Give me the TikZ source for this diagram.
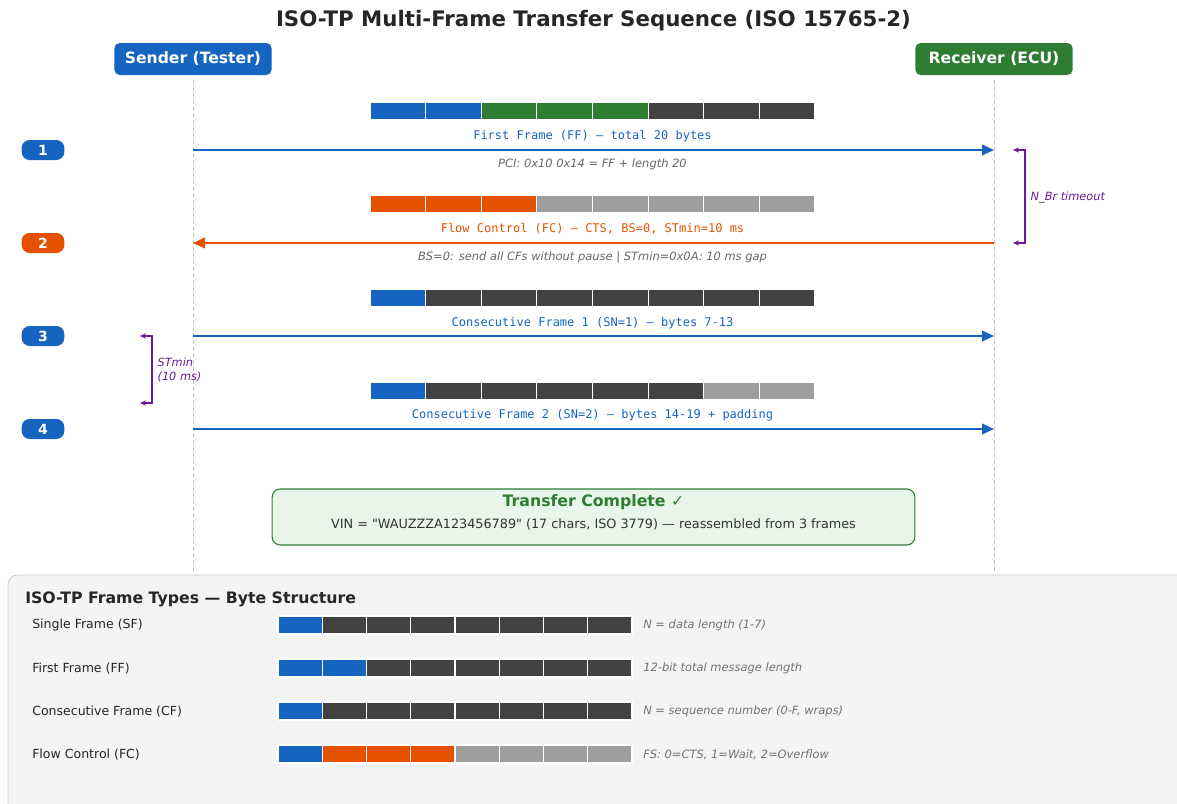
\documentclass[tikz,border=0pt]{standalone}
\usepackage{fontspec}
\setmainfont{DejaVu Sans}
\setmonofont{DejaVu Sans Mono}
\usepackage{tikz}
\usetikzlibrary{positioning,arrows.meta}
\usepackage{xcolor}

\definecolor{isoblue}{HTML}{1565C0}
\definecolor{isogreen}{HTML}{2E7D32}
\definecolor{isoorange}{HTML}{E65100}
\definecolor{isodark}{HTML}{424242}
\definecolor{isogray}{HTML}{9E9E9E}
\definecolor{isopurple}{HTML}{6A1B9A}
\definecolor{donefill}{HTML}{E8F5E9}
\definecolor{panelfill}{HTML}{F4F4F4}

% one CAN frame drawn as eight byte cells
\newcommand{\bytebar}[4]{%
  \edef\bytelist{#4}%
  \foreach \c [count=\i from 0] in \bytelist
    \filldraw[fill=\c, draw=white, line width=0.8pt] ({#1+\i*#3},#2) rectangle ++(#3,18);
}

\begin{document}
\begin{tikzpicture}[
  x=0.75pt, y=-0.75pt,
  ttl/.style={font=\fontsize{16}{19}\selectfont\bfseries, text=black!85},
  hdr/.style={
    rectangle, rounded corners=4pt, text=white,
    minimum width=118pt, minimum height=24pt,
    font=\fontsize{11.7}{14}\selectfont\bfseries
  },
  badge/.style={
    rectangle, rounded corners=6pt, text=white,
    minimum width=32pt, minimum height=15pt, inner sep=0pt,
    font=\fontsize{10.5}{12}\selectfont\bfseries
  },
  life/.style={draw=black!25, dash pattern=on 3pt off 2pt, line width=0.6pt},
  msg/.style={line width=1.4pt, -{Triangle[length=9pt,width=8pt]}},
  flbl/.style={font=\fontsize{9}{11}\selectfont\ttfamily, inner sep=1pt},
  note/.style={font=\fontsize{8.6}{10}\selectfont\itshape, text=black!60, inner sep=1pt},
  brk/.style={draw=isopurple, line width=1pt,
    {Stealth[length=4.5pt,width=4pt]}-{Stealth[length=4.5pt,width=4pt]}},
  tnote/.style={font=\fontsize{8.5}{10.5}\selectfont\itshape, text=isopurple,
    align=left, inner sep=1pt},
  done/.style={
    rectangle, rounded corners=6pt, draw=isogreen, fill=donefill,
    line width=0.8pt, minimum width=482pt, minimum height=42pt
  },
  panel/.style={draw=black!20, fill=panelfill, rounded corners=7pt, line width=0.6pt},
  rowlbl/.style={font=\fontsize{9.4}{11}\selectfont, text=black!85, anchor=west, inner sep=0pt},
  rownote/.style={font=\fontsize{8.6}{10}\selectfont\itshape, text=black!55, anchor=west, inner sep=0pt}
]
\useasboundingbox (0,0) rectangle (1177,803);

\node[ttl] (title) at (593.5,21) {ISO-TP Multi-Frame Transfer Sequence (ISO 15765-2)};

% the two parties and their lifelines
\node[hdr, fill=isoblue] (snd) at (193,59) {Sender (Tester)};
\node[hdr, fill=isogreen] (rcv) at (994,59) {Receiver (ECU)};
\coordinate (sndtop) at (193,80);
\coordinate (sndbot) at (193,572);
\coordinate (rcvtop) at (994,80);
\coordinate (rcvbot) at (994,572);
\draw[life] (sndtop) -- (sndbot);
\draw[life] (rcvtop) -- (rcvbot);

% step markers
\node[badge, fill=isoblue] (b1) at (43,150) {1};
\node[badge, fill=isoorange] (b2) at (43,243) {2};
\node[badge, fill=isoblue] (b3) at (43,336) {3};
\node[badge, fill=isoblue] (b4) at (43,429) {4};

% 1: first frame
\bytebar{370}{102}{55.625}{isoblue,isoblue,isogreen,isogreen,isogreen,isodark,isodark,isodark}
\coordinate (s1) at (193,150);
\coordinate (r1) at (994,150);
\draw[msg, isoblue] (s1) -- (r1);
\node[flbl, text=isoblue] (l1) at (592.5,136) {First Frame (FF) — total 20 bytes};
\node[note] (n1) at (592.5,164) {PCI: 0x10 0x14 = FF + length 20};

% 2: flow control back to the tester
\bytebar{370}{195}{55.625}{isoorange,isoorange,isoorange,isogray,isogray,isogray,isogray,isogray}
\coordinate (s2) at (193,243);
\coordinate (r2) at (994,243);
\draw[msg, isoorange] (r2) -- (s2);
\node[flbl, text=isoorange] (l2) at (592.5,229) {Flow Control (FC) — CTS, BS=0, STmin=10 ms};
\node[note] (n2) at (592.5,257) {BS=0: send all CFs without pause | STmin=0x0A: 10 ms gap};

% 3: consecutive frame 1
\bytebar{370}{289}{55.625}{isoblue,isodark,isodark,isodark,isodark,isodark,isodark,isodark}
\coordinate (s3) at (193,336);
\coordinate (r3) at (994,336);
\draw[msg, isoblue] (s3) -- (r3);
\node[flbl, text=isoblue] (l3) at (592.5,323) {Consecutive Frame 1 (SN=1) — bytes 7-13};

% 4: consecutive frame 2
\bytebar{370}{382}{55.625}{isoblue,isodark,isodark,isodark,isodark,isodark,isogray,isogray}
\coordinate (s4) at (193,429);
\coordinate (r4) at (994,429);
\draw[msg, isoblue] (s4) -- (r4);
\node[flbl, text=isoblue] (l4) at (592.5,415) {Consecutive Frame 2 (SN=2) — bytes 14-19 + padding};

% timing brackets
\coordinate (nb1) at (1013,150);
\coordinate (nb2) at (1013,243);
\draw[brk] (nb1) -- ++(12,0) |- (nb2);
\node[tnote, anchor=west] (nbl) at (1029,198) {N\_Br timeout};
\coordinate (st1) at (140,336);
\coordinate (st2) at (140,403);
\draw[brk] (st1) -- ++(12,0) |- (st2);
\node[tnote, anchor=west] (stl) at (156,370) {STmin\\(10 ms)};

% result
\node[done] (done) at (593.5,517) {};
\node[font=\fontsize{11.8}{14}\selectfont\bfseries, text=isogreen] (dttl) at (593.5,502) {Transfer Complete ✓};
\node[font=\fontsize{9.6}{11}\selectfont, text=black!80] (dsub) at (593.5,524)
  {VIN = \textquotedbl WAUZZZA123456789\textquotedbl{} (17 chars, ISO 3779) — reassembled from 3 frames};

% frame type legend
\path[panel] (8,575) rectangle (1195,820);
\node[font=\fontsize{11.8}{14}\selectfont\bfseries, text=black!85, anchor=west, inner sep=0pt]
  (ptitle) at (25,599) {ISO-TP Frame Types — Byte Structure};
\foreach \lbl/\yy/\cols/\nt [count=\r] in {
  {Single Frame (SF)}/625/{isoblue,isodark,isodark,isodark,isodark,isodark,isodark,isodark}/{N = data length (1-7)},
  {First Frame (FF)}/668/{isoblue,isoblue,isodark,isodark,isodark,isodark,isodark,isodark}/{12-bit total message length},
  {Consecutive Frame (CF)}/711/{isoblue,isodark,isodark,isodark,isodark,isodark,isodark,isodark}/{N = sequence number (0-F, wraps)},
  {Flow Control (FC)}/754/{isoblue,isoorange,isoorange,isoorange,isogray,isogray,isogray,isogray}/{FS: 0=CTS, 1=Wait, 2=Overflow}}
{
  \node[rowlbl] (row\r) at (32,\yy+0.5) {\lbl};
  \bytebar{278}{\yy-9}{44.25}{\cols}
  \node[rownote] (rnote\r) at (643,\yy+0.5) {\nt};
}
\end{tikzpicture}
\end{document}
